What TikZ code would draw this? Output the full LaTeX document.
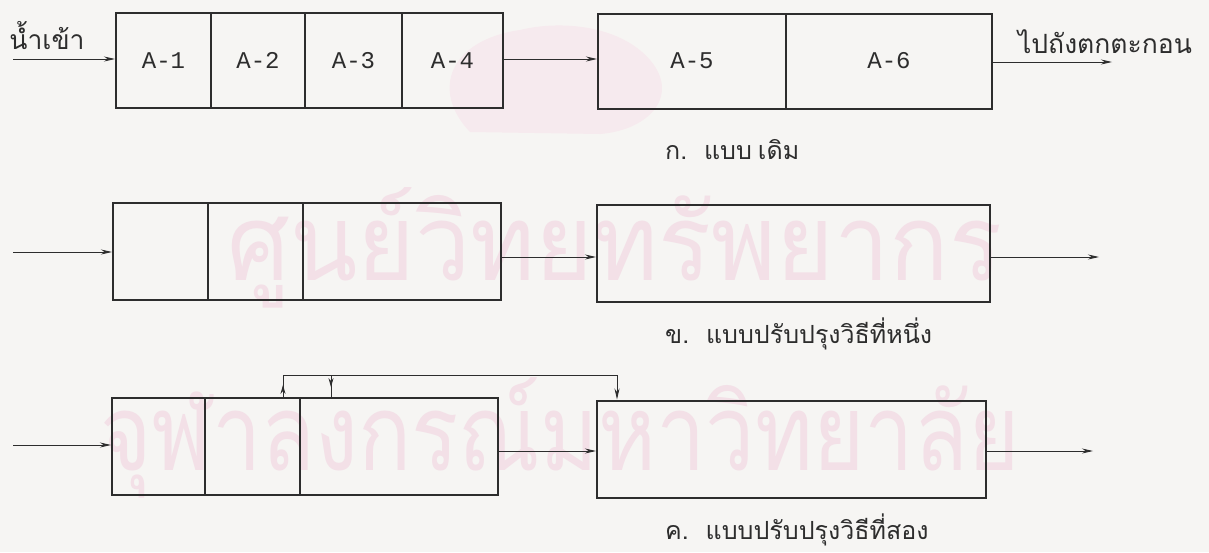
\documentclass[tikz,border=0pt]{standalone}
\usepackage{fontspec}
\newfontfamily\thai[Script=Thai]{Loma}
\setmonofont{Liberation Mono}
\usetikzlibrary{arrows.meta,decorations.markings}
\definecolor{ink}{RGB}{45,45,45}
\definecolor{paper}{RGB}{246,245,243}
\definecolor{wmark}{RGB}{243,224,231}
\definecolor{wlogo}{RGB}{246,234,238}
\begin{document}
\begin{tikzpicture}[x=1pt,y=-1pt,
  tank/.style={draw=ink,line width=2pt,rectangle,inner sep=0pt,font=\ttfamily\fontsize{24}{24}\selectfont,text=ink},
  flow/.style={draw=ink,line width=0.9pt,-{Stealth[length=11pt,width=5pt]}},
  pipe/.style={draw=ink,line width=0.9pt},
  midup/.style={postaction={decorate},decoration={markings,mark=at position 0.55 with {\arrow{Stealth[length=9pt,width=5pt]}}}},
  thaitxt/.style={font=\thai\fontsize{26.5}{28}\selectfont,text=ink,inner sep=0pt},
  captxt/.style={font=\thai\fontsize{25}{27}\selectfont,text=ink,inner sep=0pt,anchor=west},
  wm/.style={font=\thai\fontsize{106}{106}\selectfont,text=wmark,inner sep=0pt,text height=70pt,text depth=10pt}
]
\useasboundingbox (0,0) rectangle (1209,552);
\fill[paper] (0,0) rectangle (1209,552);
% watermark
\fill[wlogo] (470,132) .. controls (430,90) and (450,40) .. (520,30) .. controls (560,20) and (620,25) .. (650,60) .. controls (680,95) and (650,130) .. (600,134) -- cycle;
\node[wm,xscale=0.93] (wm1) at (615,250) {ศูนย์วิทยทรัพยากร};
\node[wm,xscale=0.83] (wm2) at (560,440) {จุฬาลงกรณ์มหาวิทยาลัย};

% ---------- row 1
\node[tank,minimum width=95pt,minimum height=95pt] (a1) at (163.5,60.5) {A-1};
\node[tank,minimum width=94pt,minimum height=95pt] (a2) at (258,60.5) {A-2};
\node[tank,minimum width=97pt,minimum height=95pt] (a3) at (353.5,60.5) {A-3};
\node[tank,minimum width=101pt,minimum height=95pt] (a4) at (452.5,60.5) {A-4};
\node[tank,minimum width=188pt,minimum height=95pt] (a5) at (692,61) {A-5};
\node[tank,minimum width=206pt,minimum height=95pt] (a6) at (889,61) {A-6};
\coordinate (in1) at (13,59);
\coordinate (out1) at (1112,62);
\draw[flow] (in1) -- (in1 -| a1.west);
\draw[flow] (a4.east |- in1) -- (a5.west |- in1);
\draw[flow] (a6.east |- out1) -- (out1);
\node[thaitxt] (lin) at (47,36) {น้ำเข้า};
\node[thaitxt] (lout) at (1105,42) {ไปถังตกตะกอน};
\node[captxt] (cap1) at (665,150) {ก.\ \ แบบ\hspace{6pt}เดิม};

% ---------- row 2
\node[tank,minimum width=95pt,minimum height=97pt] (b1) at (160.5,251.5) {};
\node[tank,minimum width=95pt,minimum height=97pt] (b2) at (255.5,251.5) {};
\node[tank,minimum width=198pt,minimum height=97pt] (b3) at (402,251.5) {};
\node[tank,minimum width=393pt,minimum height=97pt] (b4) at (793.5,253.5) {};
\coordinate (in2) at (13,252);
\coordinate (out2) at (1099,257);
\draw[flow] (in2) -- (in2 -| b1.west);
\draw[flow] (b3.east |- out2) -- (b4.west |- out2);
\draw[flow] (b4.east |- out2) -- (out2);
\node[captxt] (cap2) at (665,334) {ข.\ \ แบบปรับปรุงวิธีที่หนึ่ง};

% ---------- row 3
\node[tank,minimum width=93pt,minimum height=97pt] (c1) at (158.5,446.5) {};
\node[tank,minimum width=95pt,minimum height=97pt] (c2) at (252.5,446.5) {};
\node[tank,minimum width=198pt,minimum height=97pt] (c3) at (399,446.5) {};
\node[tank,minimum width=389pt,minimum height=97pt] (c4) at (791.5,449) {};
\coordinate (in3) at (13,445);
\coordinate (out3) at (1093,451);
\coordinate (r1) at (283,375);
\coordinate (r2) at (331,375);
\coordinate (r3) at (617,375);
\draw[flow] (in3) -- (in3 -| c1.west);
\draw[flow] (c3.east |- out3) -- (c4.west |- out3);
\draw[flow] (c4.east |- out3) -- (out3);
\draw[pipe,midup] (c2.north -| r1) -- (r1);
\draw[pipe] (r1) -- (r3);
\draw[flow] (r3) -- (c4.north -| r3);
\draw[pipe,midup] (r2) -- (c3.north -| r2);
\node[captxt] (cap3) at (665,530) {ค.\ \ แบบปรับปรุงวิธีที่สอง};
\end{tikzpicture}
\end{document}
